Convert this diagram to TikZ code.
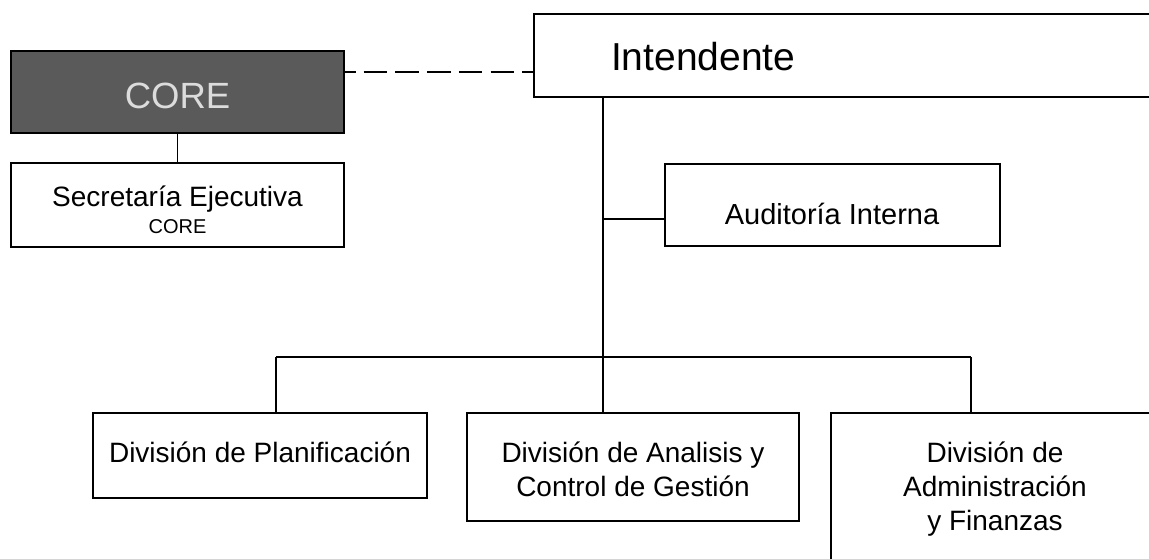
\documentclass[tikz,border=0pt]{standalone}
\usepackage{fontspec}
\setmainfont{Liberation Sans}
\definecolor{coregray}{HTML}{5A5A5A}
\definecolor{coretext}{HTML}{DCDCDC}
\begin{document}
\begin{tikzpicture}[x=1pt,y=-1pt,
  box/.style={draw=black, line width=1.8pt, fill=white, inner sep=0pt, outer sep=0pt},
  txt/.style={anchor=base, inner sep=0pt, outer sep=0pt, font=\fontsize{28}{33}\selectfont},
  conn/.style={draw=black, line width=1.8pt}]
\useasboundingbox (0,0) rectangle (1149,558);
\clip (0,0) rectangle (1149,558);
% boxes
\node[box, fill=coregray, minimum width=333pt, minimum height=82pt] (core) at (177.5,92) {};
\node[box, minimum width=333pt, minimum height=84pt] (sec) at (177.5,205) {};
\node[box, minimum width=636pt, minimum height=83pt] (int) at (852,55.5) {};
\node[box, minimum width=335pt, minimum height=82pt] (aud) at (832.5,205) {};
\node[box, minimum width=334pt, minimum height=85pt] (plan) at (260,455.5) {};
\node[box, minimum width=332pt, minimum height=108pt] (ana) at (633,467) {};
\node[box, minimum width=339pt, minimum height=167pt] (adm) at (1000.5,496.5) {};
% texts
\node[txt, text=coretext, font=\fontsize{36.5}{40}\selectfont] (coret) at (177.5,108) {CORE};
\node[txt] (sect1) at (177.5,206) {Secretaría Ejecutiva};
\node[txt, font=\fontsize{20}{24}\selectfont] (sect2) at (177.5,233) {CORE};
\node[txt, anchor=base west, font=\fontsize{39}{44}\selectfont] (intt) at (611,70) {Intendente};
\node[txt, font=\fontsize{29}{34}\selectfont] (audt) at (832,224) {Auditoría Interna};
\node[txt] (plant) at (260,462) {División de Planificación};
\node[txt] (anat1) at (633,462) {División de Analisis y};
\node[txt] (anat2) at (633,496) {Control de Gestión};
\node[txt] (admt1) at (995,462) {División de};
\node[txt] (admt2) at (995,496) {Administración};
\node[txt] (admt3) at (995,530) {y Finanzas};
% helper coordinates
\coordinate (dashy) at (0,72);
\coordinate (tx) at (603,0);
\coordinate (audy) at (603,219);
\coordinate (busL) at (276,357);
\coordinate (busR) at (971,357);
% connectors
\draw[conn] (core.south) -- (sec.north);
\draw[conn, dash pattern=on 23.5pt off 8.2pt, dash phase=12pt] (core.east |- dashy) -- (int.west |- dashy);
\draw[conn] (tx |- int.south) -- (tx |- ana.north);
\draw[conn] (audy) -- (audy -| aud.west);
\draw[conn] (busL) -- (busR);
\draw[conn] (busL) -- (busL |- plan.north);
\draw[conn] (busR) -- (busR |- adm.north);
\end{tikzpicture}
\end{document}
